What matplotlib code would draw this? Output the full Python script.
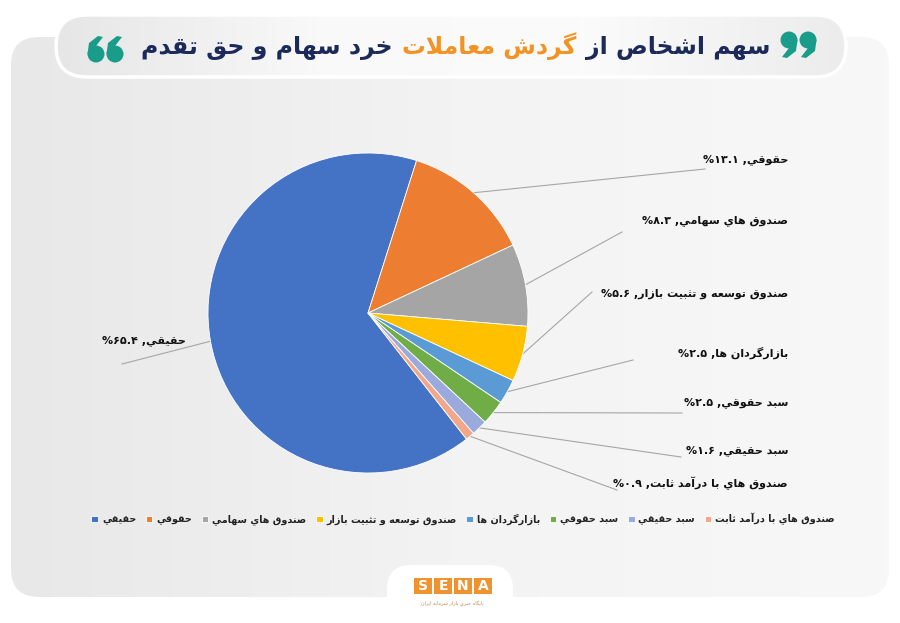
import numpy as np
import matplotlib.pyplot as plt
from matplotlib.patches import FancyBboxPatch, Rectangle, Circle, Polygon
from matplotlib.colors import LinearSegmentedColormap
from matplotlib.offsetbox import TextArea, HPacker, AnnotationBbox

plt.rcParams['font.family'] = ['DejaVu Sans']

# data
labels = ['حقيقي', 'حقوقي', 'صندوق هاي سهامي', 'صندوق توسعه و تثبيت بازار',
          'بازارگردان ها', 'سبد حقوقي', 'سبد حقيقي', 'صندوق هاي با درآمد ثابت']
shares = [65.4, 13.1, 8.3, 5.6, 2.5, 2.5, 1.6, 0.9]
colors = ['#4472C4', '#ED7D31', '#A5A5A5', '#FFC000',
          '#5B9BD5', '#70AD47', '#9AAADC', '#F2A78B']
title_parts = ['سهم اشخاص از', 'گردش معاملات', 'خرد سهام و حق تقدم']
title_colors = ['#1c2a5a', '#f39325', '#1c2a5a']
logo_letters = ['S', 'E', 'N', 'A']
logo_caption = 'پايگاه خبري بازار سرمايه ايران'

# matplotlib has no arabic shaping, so pick presentation forms by hand
DUAL = {'ب': 0xFE8F, 'ت': 0xFE95, 'ث': 0xFE99, 'ج': 0xFE9D, 'ح': 0xFEA1,
        'خ': 0xFEA5, 'س': 0xFEB1, 'ش': 0xFEB5, 'ص': 0xFEB9, 'ض': 0xFEBD,
        'ط': 0xFEC1, 'ظ': 0xFEC5, 'ع': 0xFEC9, 'غ': 0xFECD, 'ف': 0xFED1,
        'ق': 0xFED5, 'ك': 0xFED9, 'ل': 0xFEDD, 'م': 0xFEE1, 'ن': 0xFEE5,
        'ه': 0xFEE9, 'ي': 0xFEF1, 'گ': 0xFB92, 'پ': 0xFB56}
RIGHT = {'ا': 0xFE8D, 'آ': 0xFE81, 'د': 0xFEA9, 'ذ': 0xFEAB, 'ر': 0xFEAD,
         'ز': 0xFEAF, 'و': 0xFEED}


def joins(c):
    return c in DUAL or c in RIGHT


def shape(s):
    out = []
    i = 0
    while i < len(s):
        c = s[i]
        prev = s[i - 1] if i > 0 else ''
        nxt = s[i + 1] if i + 1 < len(s) else ''
        lp = prev in DUAL and joins(c)
        if c == 'ل' and nxt and nxt in 'اآ':
            base = 0xFEFB if nxt == 'ا' else 0xFEF5
            out.append(chr(base + int(lp)))
            i += 2
            continue
        if c in DUAL:
            ln = joins(nxt)
            k = 3 if (lp and ln) else 1 if lp else 2 if ln else 0
            out.append(chr(DUAL[c] + k))
        elif c in RIGHT:
            out.append(chr(RIGHT[c] + int(lp)))
        else:
            out.append(c)
        i += 1
    return ''.join(out)


def rtl(s):
    return shape(s)[::-1]


def fa(v):
    return f'{v:.1f}'.translate(str.maketrans('0123456789', '۰۱۲۳۴۵۶۷۸۹'))


W, H = 900, 623


def Y(y):
    return H - y


fig = plt.figure(figsize=(9, 6.23), dpi=100, facecolor='white')
ax = fig.add_axes([0, 0, 1, 1])


def gradient(patch, cols, zorder):
    ax.add_patch(patch)
    x0, y0, w, h = patch.get_x(), patch.get_y(), patch.get_width(), patch.get_height()
    cmap = LinearSegmentedColormap.from_list('g', cols)
    im = ax.imshow(np.linspace(0, 1, 256)[None, :], cmap=cmap, aspect='auto',
                   extent=(x0, x0 + w, y0, y0 + h), origin='lower', zorder=zorder)
    im.set_clip_path(patch)


def quote_mark(x, y, flip):
    # one filled comma-like mark; flip=True gives the "6" shape
    s = -1 if flip else 1
    rr = 8.5
    ax.add_patch(Circle((x, Y(y)), rr, fc='#1a9c8b', ec='none', zorder=3))
    pts = [(x + rr * s, y), (x + 7 * s, y + 11), (x - 2 * s, y + 18),
           (x - 7 * s, y + 17), (x + 0 * s, y + 8)]
    if flip:
        pts = [(px, 2 * y - py) for px, py in pts]
    ax.add_patch(Polygon([(px, Y(py)) for px, py in pts], closed=True,
                         fc='#1a9c8b', ec='none', zorder=3))


# card and title pill
card = FancyBboxPatch((11, Y(597)), 878, 560, boxstyle='round,pad=0,rounding_size=28',
                      fc='none', ec='none', zorder=0)
gradient(card, ['#e8e8e8', '#f3f3f3', '#f8f8f8'], 0)

bump = FancyBboxPatch((387, Y(630)), 126, 65, boxstyle='round,pad=0,rounding_size=24',
                      fc='white', ec='none', zorder=1)
ax.add_patch(bump)

pill = FancyBboxPatch((56, Y(77)), 790, 62, boxstyle='round,pad=0,rounding_size=31',
                      fc='none', ec='none', zorder=1)
gradient(pill, ['#e6e6e6', '#f9f9f9', '#fbfbfb', '#ececec'], 1)
ax.add_patch(FancyBboxPatch((56, Y(77)), 790, 62, boxstyle='round,pad=0,rounding_size=31',
                            fc='none', ec='white', lw=2.5, zorder=2))

# title
areas = [TextArea(rtl(p), textprops=dict(color=c, fontsize=17, fontweight='bold'))
         for p, c in zip(title_parts, title_colors)][::-1]
pack = HPacker(children=areas, align='baseline', pad=0, sep=7)
ax.add_artist(AnnotationBbox(pack, (456, Y(46)), xycoords='data', frameon=False,
                             box_alignment=(0.5, 0.5), zorder=3))
# quote marks: "66" on the left, "99" on the right
quote_mark(96, 54, True)
quote_mark(115, 54, True)
quote_mark(789, 40, False)
quote_mark(808, 40, False)

# pie
cx, cy, r = 368, Y(313), 160
wedges, _ = ax.pie(shares, colors=colors, startangle=-52, counterclock=False,
                   center=(cx, cy), radius=r, frame=True,
                   wedgeprops=dict(edgecolor='white', linewidth=0.6))
for w in wedges:
    w.set_zorder(3)

label_pos = [(186, 341), (788, 160), (788, 221), (788, 294),
             (788, 353), (788, 403), (788, 451), (788, 483)]
line_end = [(122, 364), (705, 169), (622, 232), (592, 292),
            (633, 360), (682, 413), (681, 457), (617, 490)]

for w, name, v, (tx, ty), (lx, ly) in zip(wedges, labels, shares, label_pos, line_end):
    a = np.deg2rad((w.theta1 + w.theta2) / 2)
    ax.plot([cx + r * np.cos(a), lx], [cy + r * np.sin(a), Y(ly)],
            color='#a6a6a6', lw=0.8, zorder=2)
    ax.text(tx, Y(ty), '%' + fa(v) + ' ,' + rtl(name), ha='right', va='center',
            fontsize=8, fontweight='bold', color='#111111', zorder=4)

leg = ax.legend(wedges, [rtl(l) for l in labels], ncol=8, loc='center',
                bbox_to_anchor=(463 / W, Y(519) / H), frameon=False,
                handlelength=0.7, handleheight=0.7, handletextpad=0.4,
                columnspacing=1.0, prop=dict(size=6.9, weight='bold'))
for t in leg.get_texts():
    t.set_color('#222222')

# logo
for i, ch in enumerate(logo_letters):
    x0 = 414 + i * 20
    ax.add_patch(Rectangle((x0, Y(594)), 18, 16, fc='#f0932f', ec='none', zorder=3))
    ax.text(x0 + 9, Y(586), ch, color='white', fontsize=10, fontweight='bold',
            ha='center', va='center', zorder=4)
ax.text(452, Y(604), rtl(logo_caption), color='#c98a4a', fontsize=3.5,
        ha='center', va='center', zorder=4)

ax.set_xlim(0, W)
ax.set_ylim(0, H)
ax.set_aspect('auto')
ax.axis('off')

fig.savefig('out.png', dpi=100, facecolor='white')
